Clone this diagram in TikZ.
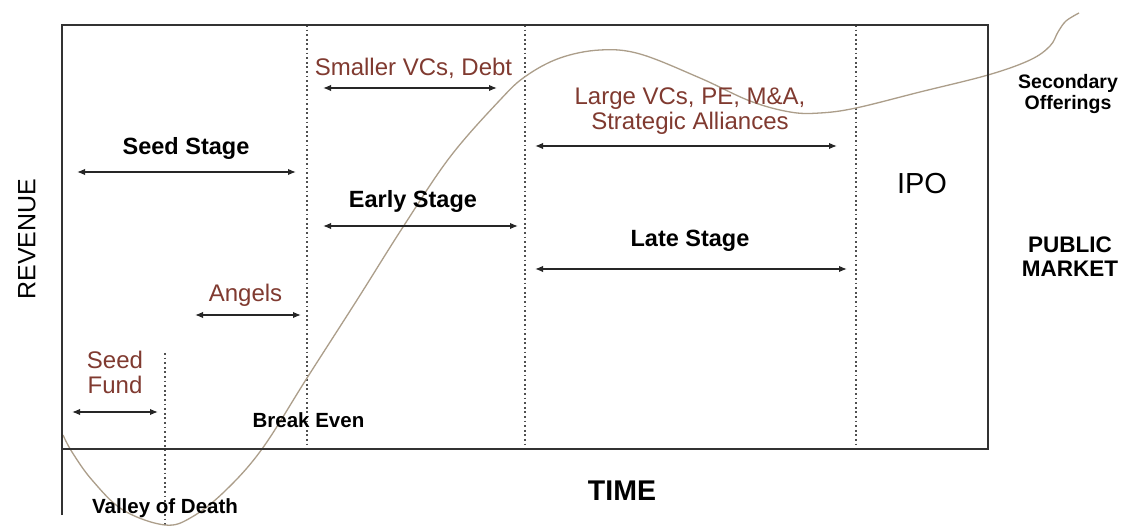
\documentclass[tikz,border=0pt]{standalone}
\usepackage{fontspec}
\setmainfont{Liberation Sans}
\usetikzlibrary{arrows.meta}
\definecolor{brownlab}{RGB}{128,58,48}
\definecolor{curvec}{RGB}{172,158,138}
\definecolor{framec}{RGB}{50,50,50}
\definecolor{dotc}{RGB}{80,80,80}
\begin{document}
\begin{tikzpicture}[x=1pt,y=-1pt,
  frame/.style={framec, line width=2pt, line join=miter},
  divider/.style={dotc, line width=1.8pt, dash pattern=on 1.8pt off 2.8pt},
  span/.style={{Latex[length=8pt,width=6.5pt]}-{Latex[length=8pt,width=6.5pt]}, line width=1.5pt, black!85},
  browntxt/.style={text=brownlab, font=\fontsize{24}{25}\selectfont, inner sep=0pt, align=center},
  stagetxt/.style={font=\bfseries\fontsize{23.5}{25}\selectfont, inner sep=0pt},
  smalltxt/.style={font=\bfseries\fontsize{20.5}{22}\selectfont, inner sep=0pt},
  sidetxt/.style={font=\bfseries\fontsize{19.5}{21}\selectfont, inner sep=0pt, align=center},
  bigtxt/.style={font=\fontsize{29}{30}\selectfont, inner sep=0pt}
]
\useasboundingbox[fill=white] (0,0) rectangle (1122,526);

% frame corners
\coordinate (tl) at (62,25);
\coordinate (tr) at (988,25);
\coordinate (br) at (988,449);
\coordinate (bl) at (62,449);
\coordinate (lb) at (62,515);

% divider ends
\coordinate (d1t) at (307,25);  \coordinate (d1b) at (307,449);
\coordinate (d2t) at (525,25);  \coordinate (d2b) at (525,449);
\coordinate (d3t) at (856,25);  \coordinate (d3b) at (856,449);
\coordinate (d0t) at (165,353); \coordinate (d0b) at (165,526);

% dotted dividers
\draw[divider] (d1t) -- (d1b);
\draw[divider] (d2t) -- (d2b);
\draw[divider] (d3t) -- (d3b);
\draw[divider] (d0t) -- (d0b);

% revenue curve
\draw[curvec, line width=1.3pt] plot[smooth, tension=0.6] coordinates {
 (63,435) (72,452) (92,480) (123,510) (165,525) (192,517)
 (225,491) (262,449) (307,378) (357,300) (403,227)
 (450,157) (500,100) (526,76)
 (560,58) (600,50) (640,54) (700,78) (750,101) (790,112) (820,113)
 (856,108) (920,92) (988,75) (1030,60) (1050,46) (1058,32) (1066,21) (1079,13)};

% frame and axes
\draw[frame] (lb) -- (tl) -- (tr) -- (br) -- (bl);

% span arrows
\coordinate (svA) at (323,88);  \coordinate (svB) at (497,88);
\coordinate (ssA) at (77,172);  \coordinate (ssB) at (296,172);
\coordinate (esA) at (323,226); \coordinate (esB) at (518,226);
\coordinate (lvA) at (535,146); \coordinate (lvB) at (837,146);
\coordinate (lsA) at (535,269); \coordinate (lsB) at (847,269);
\coordinate (anA) at (195,315); \coordinate (anB) at (301,315);
\coordinate (sfA) at (72,412);  \coordinate (sfB) at (158,412);
\draw[span] (svA) -- (svB);
\draw[span] (ssA) -- (ssB);
\draw[span] (esA) -- (esB);
\draw[span] (lvA) -- (lvB);
\draw[span] (lsA) -- (lsB);
\draw[span] (anA) -- (anB);
\draw[span] (sfA) -- (sfB);

% labels
\node[browntxt] (smallvc) at (413.5,68) {Smaller VCs, Debt};
\node[stagetxt] (seedstage) at (186,148) {Seed Stage};
\node[stagetxt] (earlystage) at (413,201) {Early Stage};
\node[browntxt] (largevc) at (690,111) {Large VCs, PE, M\&A,\\Strategic Alliances};
\node[stagetxt] (latestage) at (690,241) {Late Stage};
\node[browntxt] (angels) at (245.5,295) {Angels};
\node[browntxt] (seedfund) at (115,372) {Seed\\Fund};
\node[smalltxt] (breakeven) at (308.5,420) {Break Even};
\node[smalltxt] (valley) at (165,508) {Valley of Death};
\node[bigtxt] (ipo) at (922,184) {IPO};
\node[sidetxt] (secondary) at (1068,94) {Secondary\\Offerings};
\node[sidetxt, font=\bfseries\fontsize{22.5}{24}\selectfont] (public) at (1070,257) {PUBLIC\\MARKET};
\node[font=\fontsize{25}{26}\selectfont, inner sep=0pt, rotate=90] (revenue) at (27,239) {REVENUE};
\node[font=\bfseries\fontsize{28.5}{30}\selectfont, inner sep=0pt] (time) at (622,491) {TIME};
\end{tikzpicture}
\end{document}
